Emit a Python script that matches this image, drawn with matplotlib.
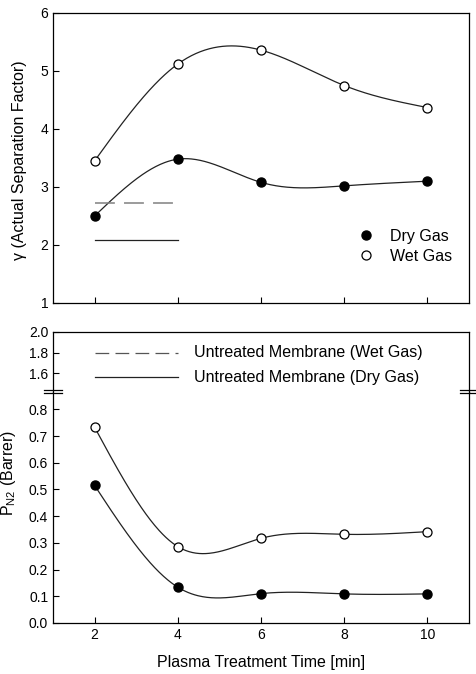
import numpy as np
import matplotlib
matplotlib.use("Agg")
import matplotlib.pyplot as plt
from matplotlib.lines import Line2D

plt.rcParams['font.family'] = ['Liberation Sans', 'DejaVu Sans']

# Data
time = np.array([2, 4, 6, 8, 10])
sep_dry = np.array([2.50, 3.48, 3.08, 3.02, 3.10])
sep_wet = np.array([3.45, 5.12, 5.36, 4.75, 4.37])
perm_dry = np.array([0.515, 0.134, 0.110, 0.109, 0.109])
perm_wet = np.array([0.733, 0.286, 0.317, 0.332, 0.342])

# untreated membrane reference values
untreated_x = [2, 4]
sep_untreated_wet = 2.73
sep_untreated_dry = 2.08
perm_untreated_wet = 1.80
perm_untreated_dry = 1.56


def natural_spline(x, y, xs):
    # natural cubic spline used only to draw the smooth connecting line
    n = len(x)
    h = np.diff(x).astype(float)
    A = np.zeros((n, n))
    r = np.zeros(n)
    A[0, 0] = 1
    A[-1, -1] = 1
    for i in range(1, n - 1):
        A[i, i - 1] = h[i - 1]
        A[i, i] = 2 * (h[i - 1] + h[i])
        A[i, i + 1] = h[i]
        r[i] = 3 * ((y[i + 1] - y[i]) / h[i] - (y[i] - y[i - 1]) / h[i - 1])
    c = np.linalg.solve(A, r)
    b = (y[1:] - y[:-1]) / h - h * (2 * c[:-1] + c[1:]) / 3
    d = (c[1:] - c[:-1]) / (3 * h)
    idx = np.clip(np.searchsorted(x, xs) - 1, 0, n - 2)
    dx = xs - x[idx]
    return y[idx] + b[idx] * dx + c[idx] * dx ** 2 + d[idx] * dx ** 3


xs = np.linspace(2, 10, 300)
W, H = 476, 674
fig = plt.figure(figsize=(W / 100, H / 100), dpi=100)

L, R = 53 / W, 469 / W
ax1 = fig.add_axes([L, 1 - 303 / H, R - L, 290 / H])
ax_hi = fig.add_axes([L, 1 - 391.7 / H, R - L, 59.7 / H])
ax_lo = fig.add_axes([L, 1 - 623 / H, R - L, 231.3 / H])

ms = 6.5
lc = '#222222'
fs = 11.5

# top panel
ax1.plot(xs, natural_spline(time, sep_wet, xs), color=lc, lw=0.9)
ax1.plot(xs, natural_spline(time, sep_dry, xs), color=lc, lw=0.9)
ax1.plot(time, sep_wet, 'o', ms=ms, mfc='white', mec='black', mew=0.9)
ax1.plot(time, sep_dry, 'o', ms=ms, mfc='black', mec='black')
ax1.plot(untreated_x, [sep_untreated_wet] * 2, color='#808080', lw=1.1, dashes=(13, 6))
ax1.plot(untreated_x, [sep_untreated_dry] * 2, color=lc, lw=0.9)
ax1.set_xlim(1, 11)
ax1.set_ylim(1, 6)
ax1.set_xticks(time)
ax1.set_xticklabels([])
ax1.set_yticks([1, 2, 3, 4, 5, 6])
handles = [Line2D([], [], ls='', marker='o', ms=ms, mfc='black', mec='black'),
           Line2D([], [], ls='', marker='o', ms=ms, mfc='white', mec='black', mew=0.9)]
ax1.legend(handles, ['Dry Gas', 'Wet Gas'], loc='center left', frameon=False,
           bbox_to_anchor=(0.695, 0.195), fontsize=fs, handletextpad=0.9,
           labelspacing=0.3, handlelength=1.2)

# bottom panel (broken y axis)
ax_hi.plot(untreated_x, [perm_untreated_wet] * 2, color='#555555', lw=0.9, dashes=(11, 5))
ax_hi.plot(untreated_x, [perm_untreated_dry] * 2, color=lc, lw=0.9)
ax_hi.text(4.4, perm_untreated_wet, 'Untreated Membrane (Wet Gas)', va='center', fontsize=fs)
ax_hi.text(4.4, perm_untreated_dry, 'Untreated Membrane (Dry Gas)', va='center', fontsize=fs)
ax_hi.set_xlim(1, 11)
ax_hi.set_ylim(1.42, 2.0)
ax_hi.set_yticks([1.6, 1.8, 2.0])
ax_hi.set_yticklabels(['1.6', '1.8', '2.0'])
ax_hi.set_xticks([])
ax_hi.spines['bottom'].set_visible(False)

ax_lo.plot(xs, natural_spline(time, perm_wet, xs), color=lc, lw=0.9)
ax_lo.plot(xs, natural_spline(time, perm_dry, xs), color=lc, lw=0.9)
ax_lo.plot(time, perm_wet, 'o', ms=ms, mfc='white', mec='black', mew=0.9)
ax_lo.plot(time, perm_dry, 'o', ms=ms, mfc='black', mec='black')
ax_lo.set_xlim(1, 11)
ax_lo.set_ylim(0, 0.866)
ax_lo.set_yticks(np.arange(0, 0.81, 0.1))
ax_lo.set_yticklabels([f'{v:.1f}' for v in np.arange(0, 0.81, 0.1)])
ax_lo.set_xticks(time)
ax_lo.spines['top'].set_visible(False)

for ax in (ax1, ax_hi, ax_lo):
    ax.tick_params(direction='in', labelsize=10, length=4, width=0.8)
    for s in ax.spines.values():
        s.set_linewidth(0.9)

# break marks
yb = 1 - 391.7 / H
for xc in (L, R):
    for dy in (1.6 / H, -1.6 / H):
        fig.add_artist(Line2D([xc - 9 / W, xc + 9 / W], [yb + dy, yb + dy],
                              color='black', lw=0.9))

fig.text(20 / W, 1 - 160 / H, 'γ (Actual Separation Factor)', rotation=90,
         ha='center', va='center', fontsize=fs)
fig.text(8 / W, 1 - 473 / H, r'P$_{\mathregular{N2}}$ (Barrer)', rotation=90,
         ha='center', va='center', fontsize=fs)
fig.text(261 / W, 1 - 663 / H, 'Plasma Treatment Time [min]', ha='center',
         va='center', fontsize=fs)

fig.savefig('out.png', dpi=100)
